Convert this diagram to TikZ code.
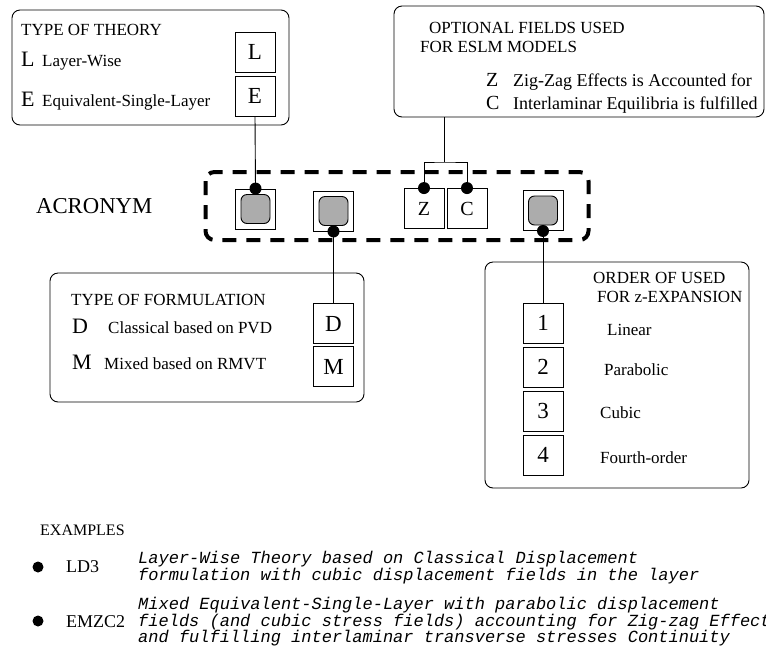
\documentclass[tikz,border=0pt]{standalone}
\usepackage{fontspec}
\setmainfont{Liberation Serif}
\setmonofont{Liberation Mono}

\tikzset{
  panel/.style={draw, rounded corners=8pt, line width=0.9pt},
  letterbox/.style={draw, line width=0.9pt, minimum width=40pt, minimum height=40pt, inner sep=0pt, font=\fontsize{23}{23}\selectfont},
  shadebox/.style={draw, line width=0.9pt, fill=gray!65, rounded corners=6pt, minimum size=29pt, inner sep=0pt},
  lbl/.style={anchor=base west, inner sep=0pt, font=\fontsize{17}{20}\selectfont},
  biglbl/.style={anchor=base west, inner sep=0pt, font=\fontsize{22}{22}\selectfont},
  codeline/.style={anchor=base west, inner sep=0pt, font=\fontsize{17}{17}\selectfont\ttfamily\itshape},
  dot/.style={circle, fill, inner sep=0pt, minimum size=12pt},
  bullet/.style={circle, fill, inner sep=0pt, minimum size=11pt}
}

\begin{document}
\begin{tikzpicture}[x=1pt,y=-1pt]
  \clip (0,0) rectangle (766,649);

  % type of theory
  \draw[panel] (12,10) rectangle (289,125);
  \node[lbl] (thTitle) at (21,35) {TYPE OF THEORY};
  \node[biglbl] (thLl) at (21,66) {L};
  \node[lbl] (thLt) at (42,66) {Layer-Wise};
  \node[biglbl] (thEl) at (21,106) {E};
  \node[lbl] (thEt) at (42,106) {Equivalent-Single-Layer};
  \node[letterbox] (thL) at (255,52) {L};
  \node[letterbox] (thE) at (255,96) {E};

  % optional fields
  \draw[panel] (394,6) rectangle (764,117);
  \node[lbl] (opTitle) at (429,33) {OPTIONAL FIELDS USED};
  \node[lbl] (opTitleb) at (420,52) {FOR ESLM MODELS};
  \node[biglbl, font=\fontsize{20}{20}\selectfont] (opZl) at (486,86) {Z};
  \node[lbl, font=\fontsize{18}{20}\selectfont] (opZt) at (513,86) {Zig-Zag Effects is Accounted for};
  \node[biglbl, font=\fontsize{20}{20}\selectfont] (opCl) at (486,109) {C};
  \node[lbl, font=\fontsize{18}{20}\selectfont] (opCt) at (513,109) {Interlaminar Equilibria is fulfilled};
  \coordinate (opt) at (444,117);
  \coordinate (brk) at (444,162);

  % acronym
  \node[lbl, font=\fontsize{22.7}{24}\selectfont] (acr) at (36,213) {ACRONYM};
  \draw[line width=4pt, dash pattern=on 14pt off 10pt, rounded corners=9pt] (205.5,172) rectangle (588.5,240);
  \node[letterbox] (acrT) at (255.5,209) {};
  \node[letterbox] (acrF) at (333.5,211) {};
  \node[letterbox, font=\fontsize{20}{20}\selectfont] (acrZ) at (424,208.5) {Z};
  \node[letterbox, font=\fontsize{20}{20}\selectfont] (acrC) at (467,208.5) {C};
  \node[letterbox] (acrO) at (543,210.5) {};
  \foreach \s in {acrT,acrF,acrO}
    \node[shadebox] at (\s) {};

  % type of formulation
  \draw[panel] (50,273) rectangle (364,402);
  \node[lbl] (fmTitle) at (71,305) {TYPE OF FORMULATION};
  \node[biglbl] (fmDl) at (72,333) {D};
  \node[lbl] (fmDt) at (108,333) {Classical based on PVD};
  \node[biglbl] (fmMl) at (72,369) {M};
  \node[lbl] (fmMt) at (104,369) {Mixed based on RMVT};
  \node[letterbox] (fmD) at (333.5,323.5) {D};
  \node[letterbox] (fmM) at (333.5,366.5) {M};

  % order of expansion
  \draw[panel] (485,262) rectangle (749,488);
  \node[lbl] (orTitle) at (593,283) {ORDER OF USED};
  \node[lbl] (orTitleb) at (597,302) {FOR z-EXPANSION};
  \foreach \n/\y/\lx/\ly/\t in {1/323/607/335/Linear,2/367/604/375/Parabolic,3/411/600/418/Cubic,4/455/600/463/Fourth-order} {
    \node[letterbox] (ord\n) at (543,\y) {\n};
    \node[lbl] (ordt\n) at (\lx,\ly) {\t};
  }

  % connectors
  \draw[line width=0.9pt] (thE.south) -- (acrT.north);
  \draw[line width=0.9pt] (acrF.south) -- (fmD.north);
  \draw[line width=0.9pt] (acrO.south) -- (ord1.north);
  \draw[line width=0.9pt] (opt) -- (brk);
  \draw[line width=0.9pt] (acrZ.north) |- (brk) -| (acrC.north);
  \foreach \a in {acrT.north,acrF.south,acrZ.north,acrC.north,acrO.south}
    \node[dot] at (\a) {};

  % examples
  \node[lbl, font=\fontsize{16}{18}\selectfont] (exTitle) at (40,535) {EXAMPLES};
  \node[bullet] (exb1) at (38,567) {};
  \node[lbl, font=\fontsize{18}{20}\selectfont] (ex1) at (66,572) {LD3};
  \node[codeline] (ex1a) at (138,563) {Layer-Wise Theory based on Classical Displacement};
  \node[codeline] (ex1b) at (138,580) {formulation with cubic displacement fields in the layer};
  \node[bullet] (exb2) at (38,621) {};
  \node[lbl, font=\fontsize{18}{20}\selectfont] (ex2) at (66,627) {EMZC2};
  \node[codeline] (ex2a) at (138,609) {Mixed Equivalent-Single-Layer with parabolic displacement};
  \node[codeline] (ex2b) at (138,626) {fields (and cubic stress fields) accounting for Zig-zag Effects};
  \node[codeline] (ex2c) at (138,642) {and fulfilling interlaminar transverse stresses Continuity};
\end{tikzpicture}
\end{document}
